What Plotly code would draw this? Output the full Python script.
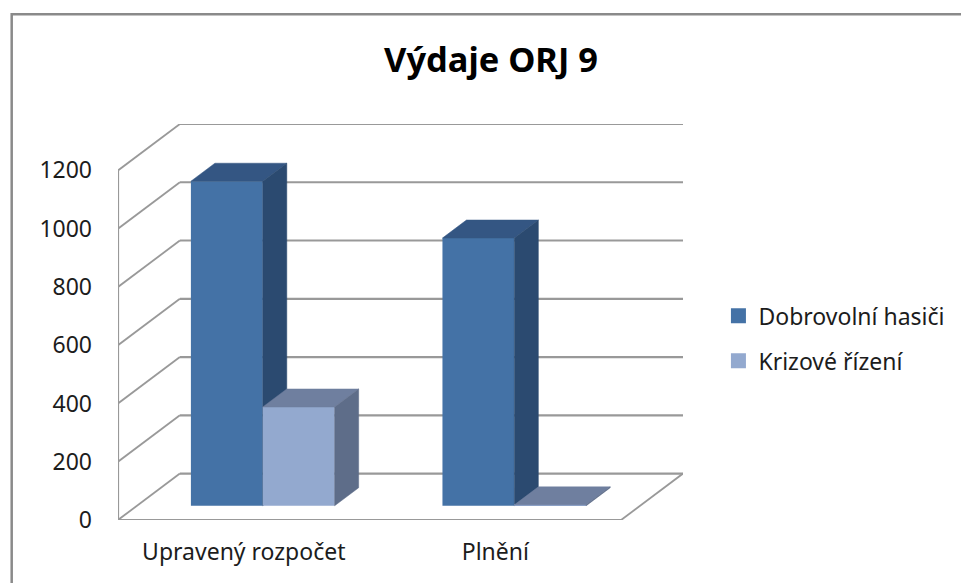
import plotly.graph_objects as go

# --- data ---
categories = ["Upravený rozpočet", "Plnění"]
series_names = ["Dobrovolní hasiči", "Krizové řízení"]
hasici_values = [1114, 919]
krizove_values = [339, 3]
y_ticks = [0, 200, 400, 600, 800, 1000, 1200]
title_text = "Výdaje ORJ 9"

# --- oblique 3D projection: depth d in [0, 1] shifts u and value ---
DEPTH_U = 0.246      # category units per full depth
DEPTH_V = 159.4      # value units per full depth
D_FRONT, D_BACK = 0.307, 0.695
BAR_W = 1 / 3.5
N = len(categories)

def proj(u, v, d=0.0):
    return u + d * DEPTH_U, v + d * DEPTH_V

FACES = [
    {"front": "#4472A6", "top": "#345683", "side": "#2B4A70"},
    {"front": "#93A9CF", "top": "#6F7F9F", "side": "#5E6D89"},
]
GRID = "#999999"
FONT = "Noto Sans"
TEXT = "#1c1c1c"
LABEL_SIZE = 23

fig = go.Figure()

def polygon(pts, color, xa, ya):
    xs, ys = zip(*[proj(*p) for p in pts])
    fig.add_trace(go.Scatter(
        x=list(xs) + [xs[0]], y=list(ys) + [ys[0]], mode="lines", fill="toself",
        fillcolor=color, line=dict(width=0.5, color=color), hoverinfo="skip",
        showlegend=False, xaxis=xa, yaxis=ya))

for s, values in enumerate([hasici_values, krizove_values]):
    xa, ya = ("x", "y") if s == 0 else ("x2", "y2")
    c = FACES[s]
    lefts = [i + 0.5 - BAR_W + s * BAR_W for i in range(N)]
    fig.add_trace(go.Bar(
        x=[proj(l + BAR_W / 2, 0, D_FRONT)[0] for l in lefts],
        y=values, base=[proj(0, 0, D_FRONT)[1]] * N, width=BAR_W,
        marker=dict(color=c["front"], line=dict(width=0)),
        name=series_names[s], showlegend=False, xaxis=xa, yaxis=ya))
    for l, v in zip(lefts, values):
        r = l + BAR_W
        polygon([(l, v, D_FRONT), (r, v, D_FRONT), (r, v, D_BACK), (l, v, D_BACK)], c["top"], xa, ya)
        polygon([(r, 0, D_FRONT), (r, v, D_FRONT), (r, v, D_BACK), (r, 0, D_BACK)], c["side"], xa, ya)
    # legend entry
    fig.add_trace(go.Scatter(
        x=[None], y=[None], mode="markers", name=series_names[s], legendgroup=series_names[s],
        marker=dict(symbol="square", size=15, color=c["front"]), xaxis=xa, yaxis=ya))

# --- walls, floor and gridlines ---
shapes = []
def seg(a, b, w=2.2):
    x0, y0 = proj(*a)
    x1, y1 = proj(*b)
    shapes.append(dict(type="line", xref="x", yref="y", x0=x0, y0=y0, x1=x1, y1=y1,
                       layer="below", line=dict(color=GRID, width=w)))

for t in y_ticks:
    seg((0, t, 1), (N, t, 1))
    seg((0, t, 0), (0, t, 1), 1.8)
seg((0, 0, 0), (0, y_ticks[-1], 0))
seg((0, 0, 0), (N, 0, 0))
seg((N, 0, 0), (N, 0, 1), 1.8)

# outer chart frame (left and top edges, in pixels converted to paper units)
W, H = 962, 583
ML, MR, MT, MB = 117.5, W - 683.5, 123.5, H - 520
px = lambda v: (v - ML) / (W - ML - MR)
py = lambda v: (H - MB - v) / (H - MT - MB)
shapes.append(dict(type="path", xref="paper", yref="paper",
                   path=f"M {px(11)},{py(H)} L {px(11)},{py(13.5)} L {px(W)},{py(13.5)}",
                   line=dict(color="#8a8a8a", width=2.5), layer="below"))

x_range = [0, N + DEPTH_U]
y_range = [0, y_ticks[-1] + DEPTH_V]
hidden = dict(visible=False, fixedrange=True)
fig.update_layout(
    width=W, height=H, autosize=False,
    margin=dict(l=ML, r=MR, t=MT, b=MB, pad=0),
    paper_bgcolor="white", plot_bgcolor="rgba(0,0,0,0)",
    font=dict(family=FONT, color=TEXT, size=LABEL_SIZE),
    title=dict(text=f"<b>{title_text}</b>", x=491 / W, xanchor="center", xref="container",
               y=1 - 60 / H, yanchor="middle", font=dict(size=34.4, family=FONT, color="#000000")),
    barmode="overlay", shapes=shapes,
    xaxis=dict(range=x_range, tickvals=[i + 0.5 for i in range(N)], ticktext=categories,
               showgrid=False, zeroline=False, showline=False, ticks="",
               ticklabelstandoff=16, fixedrange=True, tickfont=dict(size=LABEL_SIZE)),
    yaxis=dict(range=y_range, tickvals=y_ticks, showgrid=False, zeroline=False, showline=False,
               ticks="", ticklabelstandoff=25, fixedrange=True, tickfont=dict(size=LABEL_SIZE)),
    xaxis2=dict(range=x_range, overlaying="x", **hidden),
    yaxis2=dict(range=y_range, overlaying="y", **hidden),
    legend=dict(x=px(719), y=py(294), xanchor="left", yanchor="top", traceorder="grouped",
                tracegroupgap=12, bgcolor="rgba(0,0,0,0)", font=dict(size=LABEL_SIZE, family=FONT)),
)

fig.write_html("out.html", config={"displayModeBar": False},
               post_script="document.body.style.margin='0';document.body.style.overflow='hidden';")
